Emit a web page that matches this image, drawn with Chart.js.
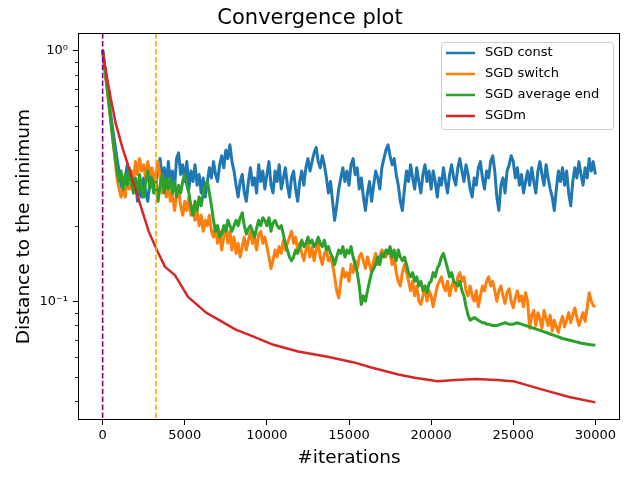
<!DOCTYPE html>
<html>
<head>
<meta charset="utf-8">
<script src="https://cdn.jsdelivr.net/npm/chart.js@4"></script>
<style>
    body { margin: 0; background: #fff; }
    canvas { display: block; }
</style>
</head>
<body>
<canvas id="grafico" width="629" height="477"></canvas>
<script>
// valores, uma amostra a cada 125 iteracoes
const passoAmostra = 125;

const sgdConst = [
    1.0, 0.86, 0.74, 0.64, 0.55, 0.48, 0.42, 0.37, 0.33, 0.29, 0.27, 0.31, 0.35, 0.29, 0.33, 0.27,
    0.30, 0.25, 0.29, 0.26, 0.31, 0.27, 0.25, 0.30, 0.33, 0.27, 0.30, 0.35, 0.37, 0.31, 0.34, 0.29,
    0.36, 0.30, 0.33, 0.28, 0.37, 0.39, 0.32, 0.35, 0.30, 0.36, 0.28, 0.33, 0.30, 0.35, 0.29, 0.32,
    0.27, 0.31, 0.26, 0.30, 0.34, 0.31, 0.36, 0.32, 0.30, 0.35, 0.38, 0.34, 0.40, 0.37, 0.42, 0.36,
    0.33, 0.29, 0.26, 0.30, 0.32, 0.27, 0.25, 0.30, 0.34, 0.29, 0.31, 0.27, 0.35, 0.30, 0.33, 0.28,
    0.32, 0.36, 0.29, 0.27, 0.33, 0.30, 0.35, 0.28, 0.31, 0.34, 0.29, 0.26, 0.31, 0.33, 0.28, 0.25,
    0.30, 0.33, 0.29, 0.34, 0.37, 0.33, 0.36, 0.39, 0.41, 0.36, 0.34, 0.38, 0.35, 0.31, 0.27, 0.30,
    0.25, 0.21, 0.24, 0.28, 0.31, 0.34, 0.30, 0.33, 0.29, 0.35, 0.37, 0.32, 0.34, 0.28, 0.31, 0.26,
    0.23, 0.27, 0.30, 0.25, 0.29, 0.33, 0.31, 0.28, 0.34, 0.37, 0.40, 0.42, 0.38, 0.35, 0.37, 0.32,
    0.29, 0.25, 0.23, 0.28, 0.33, 0.30, 0.35, 0.31, 0.28, 0.34, 0.30, 0.27, 0.32, 0.35, 0.30, 0.33,
    0.28, 0.33, 0.30, 0.26, 0.31, 0.29, 0.34, 0.30, 0.27, 0.32, 0.35, 0.31, 0.29, 0.34, 0.37, 0.33,
    0.30, 0.35, 0.32, 0.28, 0.26, 0.31, 0.29, 0.34, 0.36, 0.31, 0.28, 0.33, 0.31, 0.36, 0.38, 0.33,
    0.26, 0.23, 0.29, 0.31, 0.27, 0.33, 0.35, 0.38, 0.36, 0.31, 0.34, 0.29, 0.32, 0.27, 0.30, 0.33,
    0.29, 0.34, 0.30, 0.27, 0.33, 0.36, 0.32, 0.29, 0.35, 0.31, 0.28, 0.26, 0.23, 0.28, 0.33, 0.30,
    0.34, 0.29, 0.33, 0.27, 0.24, 0.30, 0.34, 0.31, 0.36, 0.32, 0.29, 0.34, 0.31, 0.37, 0.33, 0.36,
    0.32
];

const sgdSwitch = [
    1.0, 0.85, 0.72, 0.61, 0.52, 0.44, 0.37, 0.31, 0.28, 0.26, 0.29, 0.26, 0.31, 0.28, 0.33, 0.30,
    0.36, 0.32, 0.37, 0.33, 0.35, 0.31, 0.36, 0.32, 0.34, 0.29, 0.33, 0.36, 0.31, 0.27, 0.30, 0.26,
    0.29, 0.25, 0.27, 0.23, 0.26, 0.28, 0.24, 0.22, 0.25, 0.23, 0.26, 0.22, 0.24, 0.21, 0.23, 0.20,
    0.22, 0.19, 0.21, 0.20, 0.22, 0.19, 0.18, 0.20, 0.17, 0.19, 0.16, 0.18, 0.20, 0.17, 0.19, 0.16,
    0.18, 0.155, 0.17, 0.15, 0.165, 0.18, 0.16, 0.175, 0.19, 0.17, 0.18, 0.16, 0.185, 0.19, 0.17, 0.18,
    0.165, 0.15, 0.135, 0.145, 0.16, 0.15, 0.165, 0.155, 0.175, 0.16, 0.17, 0.18, 0.19, 0.17, 0.18, 0.16,
    0.17, 0.155, 0.145, 0.16, 0.17, 0.15, 0.165, 0.145, 0.16, 0.17, 0.15, 0.14, 0.155, 0.16, 0.145, 0.15,
    0.14, 0.125, 0.11, 0.103, 0.12, 0.135, 0.125, 0.13, 0.12, 0.14, 0.13, 0.145, 0.135, 0.15, 0.155, 0.145,
    0.135, 0.15, 0.14, 0.13, 0.145, 0.155, 0.14, 0.15, 0.16, 0.155, 0.15, 0.16, 0.155, 0.14, 0.15, 0.13,
    0.12, 0.115, 0.13, 0.14, 0.13, 0.12, 0.11, 0.12, 0.105, 0.115, 0.1, 0.097, 0.105, 0.115, 0.1, 0.11,
    0.105, 0.095, 0.105, 0.115, 0.12, 0.125, 0.115, 0.11, 0.12, 0.105, 0.115, 0.12, 0.11, 0.125, 0.13, 0.12,
    0.125, 0.11, 0.105, 0.115, 0.105, 0.1, 0.11, 0.095, 0.105, 0.115, 0.11, 0.12, 0.125, 0.115, 0.12, 0.11,
    0.1, 0.11, 0.115, 0.105, 0.098, 0.108, 0.112, 0.1, 0.094, 0.103, 0.11, 0.1, 0.105, 0.095, 0.108, 0.1,
    0.078, 0.088, 0.092, 0.08, 0.09, 0.085, 0.078, 0.092, 0.085, 0.08, 0.088, 0.076, 0.084, 0.079, 0.075, 0.082,
    0.087, 0.079, 0.084, 0.09, 0.082, 0.088, 0.094, 0.086, 0.08, 0.085, 0.09, 0.083, 0.094, 0.108, 0.1, 0.096,
    0.095
];

const sgdAverageEnd = [
    1.0, 0.86, 0.73, 0.62, 0.52, 0.44, 0.38, 0.33, 0.30, 0.33, 0.28, 0.32, 0.29, 0.34, 0.30, 0.27,
    0.31, 0.27, 0.32, 0.28, 0.26, 0.30, 0.33, 0.28, 0.31, 0.27, 0.30, 0.25, 0.29, 0.32, 0.27, 0.31,
    0.28, 0.31, 0.27, 0.30, 0.26, 0.29, 0.27, 0.30, 0.32, 0.29, 0.27, 0.24, 0.22, 0.25, 0.23, 0.26,
    0.24, 0.27, 0.29, 0.30, 0.27, 0.24, 0.21, 0.19, 0.20, 0.18, 0.185, 0.2, 0.19, 0.21, 0.2, 0.19,
    0.2, 0.21, 0.2, 0.215, 0.225, 0.2, 0.185, 0.195, 0.2, 0.19, 0.18, 0.195, 0.21, 0.2, 0.215, 0.21,
    0.2, 0.215, 0.19, 0.205, 0.21, 0.2, 0.195, 0.2, 0.185, 0.17, 0.16, 0.15, 0.145, 0.15, 0.16, 0.155,
    0.165, 0.175, 0.165, 0.17, 0.18, 0.17, 0.175, 0.165, 0.17, 0.18, 0.17, 0.165, 0.175, 0.16, 0.165, 0.155,
    0.15, 0.14, 0.15, 0.16, 0.155, 0.165, 0.15, 0.16, 0.155, 0.165, 0.15, 0.14, 0.13, 0.115, 0.097, 0.105,
    0.1, 0.11, 0.12, 0.13, 0.135, 0.14, 0.15, 0.14, 0.155, 0.15, 0.16, 0.155, 0.165, 0.15, 0.16, 0.145,
    0.16, 0.15, 0.145, 0.15, 0.14, 0.13, 0.125, 0.13, 0.12, 0.125, 0.115, 0.12, 0.11, 0.115, 0.108, 0.118,
    0.12, 0.13, 0.125, 0.135, 0.14, 0.15, 0.155, 0.145, 0.135, 0.125, 0.13, 0.12, 0.118, 0.115, 0.12, 0.11,
    0.105, 0.095, 0.088, 0.084, 0.085, 0.086, 0.085, 0.084, 0.083, 0.082, 0.082, 0.081, 0.081, 0.0805, 0.08, 0.08,
    0.08, 0.0805, 0.081, 0.0815, 0.082, 0.0815, 0.081, 0.081, 0.081, 0.0815, 0.082, 0.0815, 0.081, 0.0805, 0.08, 0.0795,
    0.079, 0.0785, 0.078, 0.0775, 0.077, 0.0765, 0.076, 0.0755, 0.075, 0.0745, 0.074, 0.0735, 0.073, 0.0725, 0.072, 0.0715,
    0.071, 0.0707, 0.0704, 0.07, 0.0697, 0.0694, 0.069, 0.0687, 0.0684, 0.068, 0.0678, 0.0676, 0.0674, 0.0672, 0.067, 0.0669,
    0.0668
];

// SGDm e suave, basta alguns pontos
const sgdmIter = [0, 250, 500, 800, 1200, 1600, 2000, 2400, 2800, 3300, 3800, 4400, 5200, 6300, 7100, 8100,
    9000, 10400, 11900, 13700, 15300, 16300, 18000, 19000, 20400, 21500, 22700, 24000, 25100, 27000, 28400, 30000];
const sgdm = [1.0, 0.79, 0.64, 0.51, 0.41, 0.34, 0.28, 0.23, 0.19, 0.16, 0.137, 0.127, 0.104, 0.09, 0.084, 0.077,
    0.073, 0.067, 0.063, 0.06, 0.057, 0.0545, 0.051, 0.0495, 0.048, 0.0485, 0.049, 0.0485, 0.0478, 0.044, 0.0415, 0.0395];

const linhasVerticais = [
    { x: 0, cor: 'purple' },
    { x: 3250, cor: '#ffa500' }
];

const xTicks = [0, 5000, 10000, 15000, 20000, 25000, 30000];
const yTicks = [0.04, 0.05, 0.06, 0.07, 0.08, 0.09, 0.1, 0.2, 0.3, 0.4, 0.5, 0.6, 0.7, 0.8, 0.9, 1];
const yRotulos = { 1: '10⁰', 0.1: '10⁻¹' };

const series = [
    { label: 'SGD const', cor: '#1f77b4' },
    { label: 'SGD switch', cor: '#ff7f0e' },
    { label: 'SGD average end', cor: '#2ca02c' },
    { label: 'SGDm', cor: '#d62728' }
];

const paraPontos = (valores, iters) => valores.map((v, i) => ({
    x: iters ? iters[i] : i * passoAmostra,
    y: v
}));

const dadosSeries = [
    paraPontos(sgdConst),
    paraPontos(sgdSwitch),
    paraPontos(sgdAverageEnd),
    paraPontos(sgdm, sgdmIter)
];

const fonte = 'DejaVu Sans';

const extras = {
    id: 'extras',
    afterDatasetsDraw(chart) {
        const ctx = chart.ctx;
        const area = chart.chartArea;
        const sx = chart.scales.x;
        ctx.save();
        ctx.lineWidth = 1.6;
        ctx.setLineDash([5.5, 2.4]);
        linhasVerticais.forEach((l) => {
            const px = sx.getPixelForValue(l.x);
            ctx.strokeStyle = l.cor;
            ctx.beginPath();
            ctx.moveTo(px, area.top);
            ctx.lineTo(px, area.bottom);
            ctx.stroke();
        });
        ctx.restore();
    },
    afterDraw(chart) {
        const ctx = chart.ctx;
        const area = chart.chartArea;
        const sy = chart.scales.y;
        ctx.save();

        // ticks menores do eixo y
        ctx.strokeStyle = '#000';
        ctx.lineWidth = 0.8;
        yTicks.forEach((v) => {
            if (yRotulos[v]) return;
            const py = Math.round(sy.getPixelForValue(v)) + 0.5;
            ctx.beginPath();
            ctx.moveTo(area.left - 3, py);
            ctx.lineTo(area.left, py);
            ctx.stroke();
        });

        // moldura
        ctx.lineWidth = 1;
        ctx.strokeRect(Math.round(area.left) + 0.5, Math.round(area.top) + 0.5,
            Math.round(area.right - area.left) - 1, Math.round(area.bottom - area.top) - 1);

        // legenda
        const lx = 441, ly = 42, lw = 172, lh = 87;
        ctx.fillStyle = 'rgba(255,255,255,0.8)';
        ctx.strokeStyle = '#cccccc';
        ctx.beginPath();
        ctx.roundRect(lx + 0.5, ly + 0.5, lw, lh, 3);
        ctx.fill();
        ctx.stroke();

        ctx.font = '13px "' + fonte + '"';
        ctx.textBaseline = 'middle';
        series.forEach((s, i) => {
            const y = ly + 11 + i * 21;
            ctx.strokeStyle = s.cor;
            ctx.lineWidth = 2.5;
            ctx.beginPath();
            ctx.moveTo(446, y);
            ctx.lineTo(475, y);
            ctx.stroke();
            ctx.fillStyle = '#000';
            ctx.fillText(s.label, 485, y);
        });
        ctx.restore();
    }
};

new Chart(document.getElementById('grafico'), {
    type: 'line',
    data: {
        datasets: series.map((s, i) => ({
            label: s.label,
            data: dadosSeries[i],
            borderColor: s.cor,
            backgroundColor: s.cor,
            borderWidth: i === 3 ? 2.5 : 3,
            borderJoinStyle: 'round',
            pointRadius: 0,
            tension: 0,
            fill: false,
            order: 4 - i
        }))
    },
    options: {
        responsive: false,
        animation: false,
        layout: { padding: { left: 0, right: 9, top: 0, bottom: 0 } },
        plugins: {
            legend: { display: false },
            tooltip: { enabled: false },
            title: {
                display: true,
                text: 'Convergence plot',
                color: '#000',
                font: { family: fonte, size: 21, weight: 'normal' },
                padding: { top: 6, bottom: 2 }
            }
        },
        scales: {
            x: {
                type: 'linear',
                min: -1500,
                max: 31500,
                afterBuildTicks: (scale) => { scale.ticks = xTicks.map((v) => ({ value: v })); },
                afterFit: (scale) => { scale.height = 57; },
                border: { display: false },
                grid: { drawOnChartArea: false, drawTicks: true, tickLength: 5, tickColor: '#000', tickWidth: 1 },
                ticks: {
                    color: '#000',
                    font: { family: fonte, size: 13 },
                    padding: 3,
                    maxRotation: 0,
                    callback: (v) => String(v)
                },
                title: {
                    display: true,
                    text: '#iterations',
                    color: '#000',
                    font: { family: fonte, size: 18.5 },
                    padding: { top: 0, bottom: 8 }
                }
            },
            y: {
                type: 'logarithmic',
                min: 0.0336,
                max: 1.17,
                afterBuildTicks: (scale) => { scale.ticks = yTicks.map((v) => ({ value: v })); },
                afterFit: (scale) => { scale.width = 78; },
                border: { display: false },
                grid: {
                    drawOnChartArea: false,
                    drawTicks: true,
                    tickLength: 5,
                    tickWidth: 1,
                    tickColor: (c) => (c.tick && yRotulos[c.tick.value] ? '#000' : 'rgba(0,0,0,0)')
                },
                ticks: {
                    color: '#000',
                    font: { family: fonte, size: 13 },
                    padding: 5,
                    autoSkip: false,
                    callback: (v) => yRotulos[v] || ''
                },
                title: {
                    display: true,
                    text: 'Distance to the minimum',
                    color: '#000',
                    font: { family: fonte, size: 18.5 },
                    padding: { top: 13, bottom: 0 }
                }
            }
        }
    },
    plugins: [extras]
});
</script>
</body>
</html>
